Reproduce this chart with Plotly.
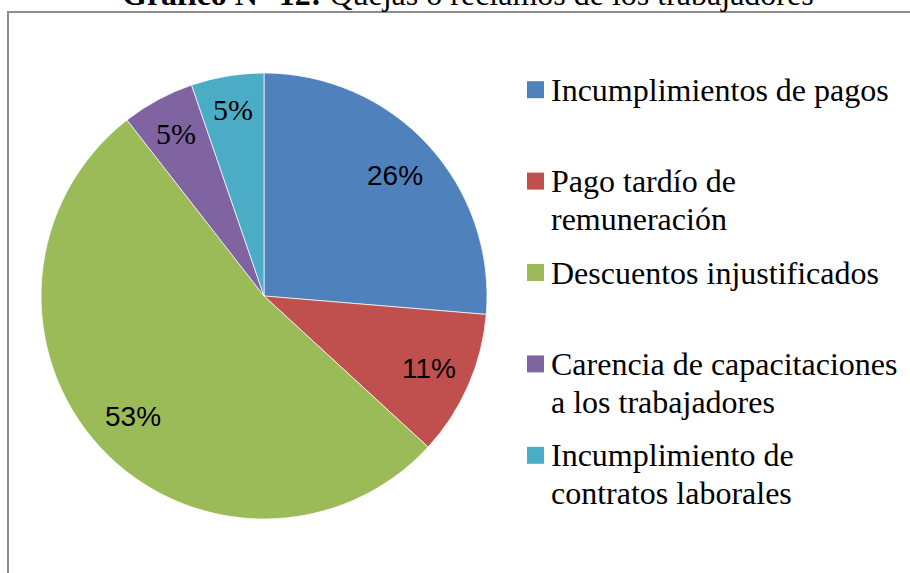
import math
import plotly.graph_objects as go

# ---- data ----
categorias = [
    "Incumplimientos de pagos",
    "Pago tardío de remuneración",
    "Descuentos injustificados",
    "Carencia de capacitaciones a los trabajadores",
    "Incumplimiento de contratos laborales",
]
lineas_leyenda = [
    ["Incumplimientos de pagos"],
    ["Pago tardío de", "remuneración"],
    ["Descuentos injustificados"],
    ["Carencia de capacitaciones", "a los trabajadores"],
    ["Incumplimiento de", "contratos laborales"],
]
frecuencias = [5, 2, 10, 1, 1]
titulo_negrita = "Gráfico N° 12:"
titulo_resto = " Quejas o reclamos de los trabajadores"

# ---- style ----
colores = ["#4F81BD", "#C0504D", "#9BBB59", "#8064A2", "#4BACC6"]
fuentes_pct = ["Liberation Sans", "Liberation Sans", "Liberation Sans", "Liberation Serif", "Liberation Serif"]
tam_pct = [28, 28, 28, 30, 30]
radio_etiqueta = [0.80, 0.81, 0.80, 0.83, 0.85]
W, H = 910, 573
cx, cy, R = 264, 296, 223

fig = go.Figure()
fig.add_trace(go.Pie(
    labels=categorias,
    values=frecuencias,
    sort=False,
    direction="clockwise",
    rotation=0,
    marker=dict(colors=colores, line=dict(color="rgba(255,255,255,0.7)", width=1)),
    textinfo="none",
    domain=dict(x=[(cx - R) / W, (cx + R) / W], y=[1 - (cy + R) / H, 1 - (cy - R) / H]),
    showlegend=False,
    hoverinfo="label+percent",
))

annotations = []
shapes = []

# percentage labels, placed from the cumulative angles of the data
total = sum(frecuencias)
acum = 0
for i, v in enumerate(frecuencias):
    mid = (acum + v / 2) / total * 2 * math.pi
    acum += v
    k = radio_etiqueta[i] * R
    px = cx + k * math.sin(mid)
    py = cy - k * math.cos(mid)
    annotations.append(dict(
        text=f"{round(100 * v / total)}%", x=px / W, y=1 - py / H,
        xref="paper", yref="paper", xanchor="center", yanchor="middle",
        showarrow=False,
        font=dict(family=fuentes_pct[i], size=tam_pct[i], color="#000000"),
    ))

# frame
shapes.append(dict(type="rect", xref="paper", yref="paper",
                   x0=8 / W, x1=1.02, y0=-0.05, y1=1 - 12 / H,
                   line=dict(color="#8c8c8c", width=2), fillcolor="rgba(0,0,0,0)"))
# title (partly cut off at the top, as in the original)
annotations.append(dict(
    text="<b>" + titulo_negrita + "</b>" + titulo_resto,
    x=468 / W, y=1 - 14 / H, xref="paper", yref="paper",
    xanchor="center", yanchor="bottom", showarrow=False,
    font=dict(family="Liberation Serif", size=32, color="#000000"),
))
# legend
step = 91.4
first = 89.7
lh = 38
sq = 17
for i, lines in enumerate(lineas_leyenda):
    yc = first + i * step
    shapes.append(dict(type="rect", xref="paper", yref="paper",
                       x0=527 / W, x1=(527 + sq) / W,
                       y0=1 - (yc + sq / 2) / H, y1=1 - (yc - sq / 2) / H,
                       fillcolor=colores[i], line=dict(width=0)))
    for j, t in enumerate(lines):
        annotations.append(dict(
            text=t, x=549 / W, y=1 - (yc + j * lh) / H, xref="paper", yref="paper",
            xanchor="left", yanchor="middle", showarrow=False,
            font=dict(family="Liberation Serif", size=32, color="#000000"),
        ))

fig.update_layout(
    width=W, height=H,
    margin=dict(l=0, r=0, t=0, b=0),
    paper_bgcolor="white", plot_bgcolor="white",
    annotations=annotations, shapes=shapes,
)
fig.write_html("out.html", config={"displayModeBar": False},
               post_script="document.body.style.margin='0';")
